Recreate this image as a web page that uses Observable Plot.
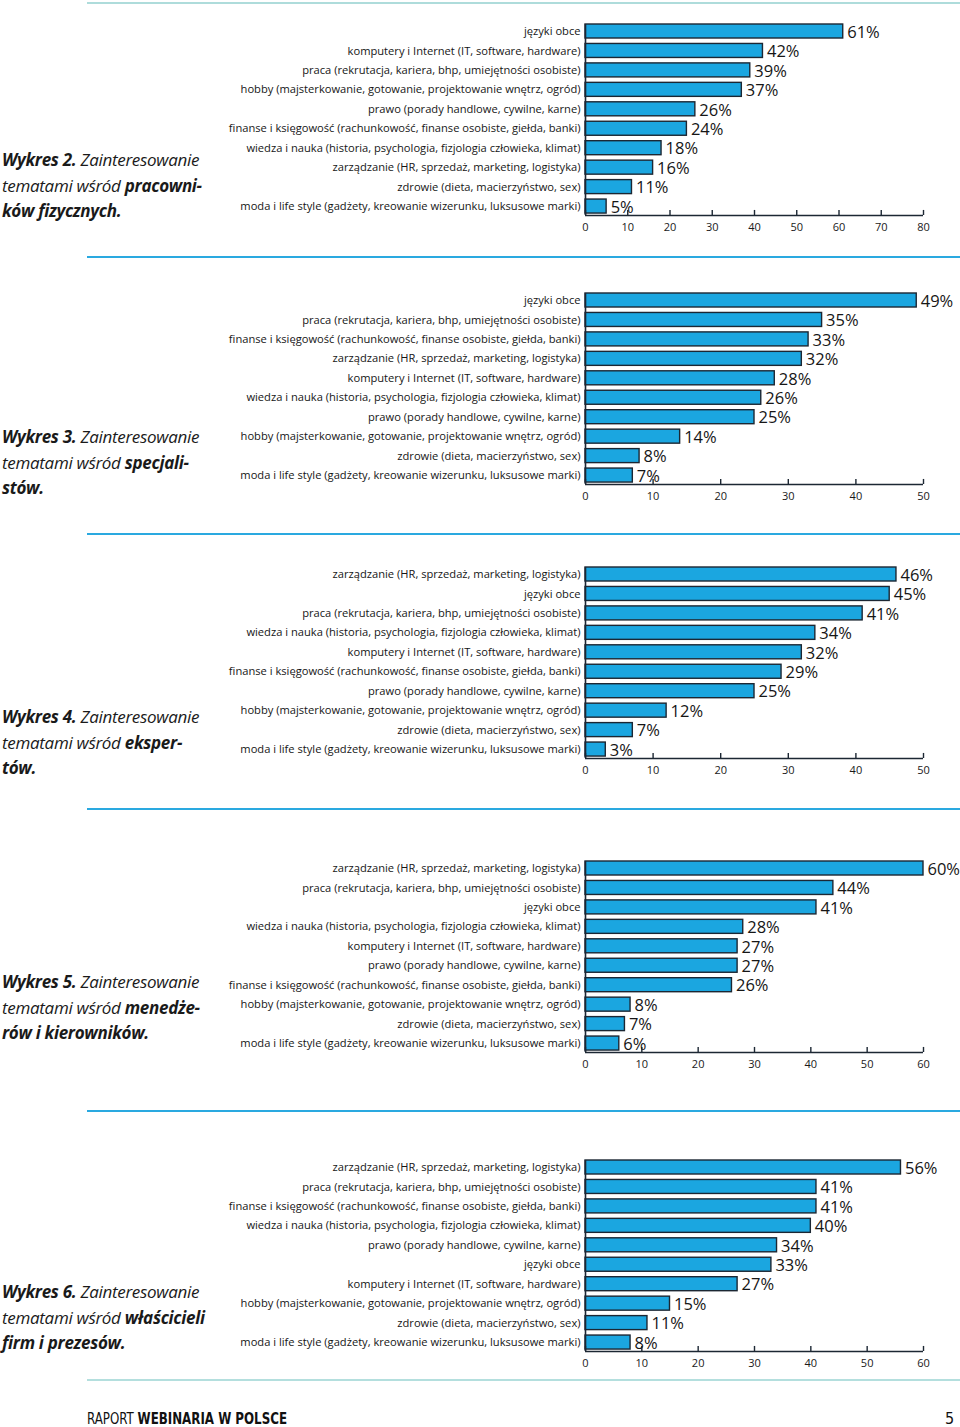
<!DOCTYPE html>
<html><head><meta charset="utf-8">
<script src="https://cdn.jsdelivr.net/npm/d3@7"></script>
<script src="https://cdn.jsdelivr.net/npm/@observablehq/plot@0.6"></script>
<style>
html,body{margin:0;padding:0;background:#fff;}
#page{position:relative;width:960px;height:1427px;overflow:hidden;font-family:"Open Sans",sans-serif;color:#1a1a1a;}
.sep{position:absolute;left:87px;width:873px;height:2px;}
.title{position:absolute;left:2px;font-size:17px;line-height:25.5px;font-style:italic;white-space:nowrap;letter-spacing:-0.3px;}
.title b{font-weight:700;}
.chart{position:absolute;left:0;}
.footer{position:absolute;left:87px;top:1409px;font-family:"DejaVu Sans Condensed","DejaVu Sans";font-size:16px;color:#111;white-space:nowrap;transform-origin:0 0;}
.pageno{position:absolute;left:945px;top:1409px;font-family:"DejaVu Sans Condensed","DejaVu Sans";font-size:16px;color:#111;}
</style></head><body><div id="page"></div><script>
// category labels
const JEZYKI = "języki obce";
const KOMP = "komputery i Internet (IT, software, hardware)";
const PRACA = "praca (rekrutacja, kariera, bhp, umiejętności osobiste)";
const HOBBY = "hobby (majsterkowanie, gotowanie, projektowanie wnętrz, ogród)";
const PRAWO = "prawo (porady handlowe, cywilne, karne)";
const FINANSE = "finanse i księgowość (rachunkowość, finanse osobiste, giełda, banki)";
const WIEDZA = "wiedza i nauka (historia, psychologia, fizjologia człowieka, klimat)";
const ZARZ = "zarządzanie (HR, sprzedaż, marketing, logistyka)";
const ZDROWIE = "zdrowie (dieta, macierzyństwo, sex)";
const MODA = "moda i life style (gadżety, kreowanie wizerunku, luksusowe marki)";

// Wykres 2 – pracownicy fizyczni
const labels2 = [JEZYKI, KOMP, PRACA, HOBBY, PRAWO, FINANSE, WIEDZA, ZARZ, ZDROWIE, MODA];
const values2 = [61, 42, 39, 37, 26, 24, 18, 16, 11, 5];
const ticks2 = [0, 10, 20, 30, 40, 50, 60, 70, 80];
// Wykres 3 – specjaliści
const labels3 = [JEZYKI, PRACA, FINANSE, ZARZ, KOMP, WIEDZA, PRAWO, HOBBY, ZDROWIE, MODA];
const values3 = [49, 35, 33, 32, 28, 26, 25, 14, 8, 7];
const ticks3 = [0, 10, 20, 30, 40, 50];
// Wykres 4 – eksperci
const labels4 = [ZARZ, JEZYKI, PRACA, WIEDZA, KOMP, FINANSE, PRAWO, HOBBY, ZDROWIE, MODA];
const values4 = [46, 45, 41, 34, 32, 29, 25, 12, 7, 3];
const ticks4 = [0, 10, 20, 30, 40, 50];
// Wykres 5 – menedżerowie i kierownicy
const labels5 = [ZARZ, PRACA, JEZYKI, WIEDZA, KOMP, PRAWO, FINANSE, HOBBY, ZDROWIE, MODA];
const values5 = [60, 44, 41, 28, 27, 27, 26, 8, 7, 6];
const ticks5 = [0, 10, 20, 30, 40, 50, 60];
// Wykres 6 – właściciele firm i prezesi
const labels6 = [ZARZ, PRACA, FINANSE, WIEDZA, PRAWO, JEZYKI, KOMP, HOBBY, ZDROWIE, MODA];
const values6 = [56, 41, 41, 40, 34, 33, 27, 15, 11, 8];
const ticks6 = [0, 10, 20, 30, 40, 50, 60];

// titles
const titleHeads = ["Wykres 2.", "Wykres 3.", "Wykres 4.", "Wykres 5.", "Wykres 6."];
const titleGroups = [
  ["pracowni-", "ków fizycznych."],
  ["specjali-", "stów."],
  ["eksper-", "tów."],
  ["menedże-", "rów i kierowników."],
  ["właścicieli", "firm i prezesów."]
];
const footerLight = "RAPORT ";
const footerBold = "WEBINARIA W POLSCE";
const pageNumber = "5";

// layout
const chartTops = [4, 273, 547, 841, 1140];
const titleTops = [147, 424, 704, 969, 1279];
const sepTops = [2, 256, 533, 808, 1110, 1379];
const sepColors = ["#aedcdb", "#2aa9e0", "#2aa9e0", "#2aa9e0", "#2aa9e0", "#b4dfde"];

const BAR = "#1ba6e0";
const EDGE = "#1c2733";
const page = document.getElementById("page");

sepTops.forEach((t, k) => {
  const d = document.createElement("div");
  d.className = "sep"; d.style.top = t + "px"; d.style.background = sepColors[k];
  page.appendChild(d);
});

function drawChart(labels, values, ticks, top) {
  const xMax = ticks[ticks.length - 1];
  const rows = labels.map((label, i) => ({label, value: values[i], i}));
  const svg = Plot.plot({
    width: 960, height: 241,
    marginLeft: 585, marginRight: 37, marginTop: 20, marginBottom: 30,
    style: {fontFamily: "'Open Sans', sans-serif", color: "#1a1a1a", background: "transparent", fontSize: "11px"},
    x: {domain: [0, xMax], ticks: ticks, tickSize: 0, tickPadding: 8, tickFormat: d => String(d), label: null},
    y: {domain: [-0.36, 9.46], reverse: true, axis: null},
    marks: [
      Plot.rect(rows, {x1: 0, x2: "value", y1: d => d.i - 0.36, y2: d => d.i + 0.36, fill: BAR, stroke: EDGE, strokeWidth: 1.4}),
      Plot.ruleX([0], {y1: -0.36, y2: 9.46, stroke: EDGE, strokeWidth: 1.6}),
      Plot.ruleY([9.46], {x1: 0, x2: xMax, stroke: EDGE, strokeWidth: 1.6}),
      Plot.ruleX(ticks, {x: d => d, y1: 9.46, y2: 9.2, stroke: EDGE, strokeWidth: 1.4}),
      Plot.text(rows, {x: 0, y: "i", text: "label", textAnchor: "end", dx: -5, fontSize: 11.15, fill: "#161616"}),
      Plot.text(rows, {x: "value", y: "i", text: d => d.value + "%", textAnchor: "start", dx: 4, dy: 1, fontSize: 16.5, fill: "#161616"})
    ]
  });
  svg.classList.add("chart");
  svg.style.top = top + "px";
  page.appendChild(svg);
}

const allLabels = [labels2, labels3, labels4, labels5, labels6];
const allValues = [values2, values3, values4, values5, values6];
const allTicks = [ticks2, ticks3, ticks4, ticks5, ticks6];
allLabels.forEach((l, k) => drawChart(l, allValues[k], allTicks[k], chartTops[k]));

titleHeads.forEach((h, k) => {
  const d = document.createElement("div");
  d.className = "title"; d.style.top = titleTops[k] + "px";
  const b1 = document.createElement("b"); b1.textContent = h;
  d.appendChild(b1);
  d.appendChild(document.createTextNode(" Zainteresowanie"));
  d.appendChild(document.createElement("br"));
  d.appendChild(document.createTextNode("tematami wśród "));
  const b2 = document.createElement("b"); b2.textContent = titleGroups[k][0];
  d.appendChild(b2);
  d.appendChild(document.createElement("br"));
  const b3 = document.createElement("b"); b3.textContent = titleGroups[k][1];
  d.appendChild(b3);
  page.appendChild(d);
});

const f = document.createElement("div");
f.className = "footer";
f.appendChild(document.createTextNode(footerLight));
const fb = document.createElement("b"); fb.textContent = footerBold; f.appendChild(fb);
page.appendChild(f);
const fw = f.getBoundingClientRect().width;
if (fw > 0) f.style.transform = "scaleX(" + (200 / fw) + ")";
const pn = document.createElement("div"); pn.className = "pageno"; pn.textContent = pageNumber; page.appendChild(pn);
</script></body></html>
